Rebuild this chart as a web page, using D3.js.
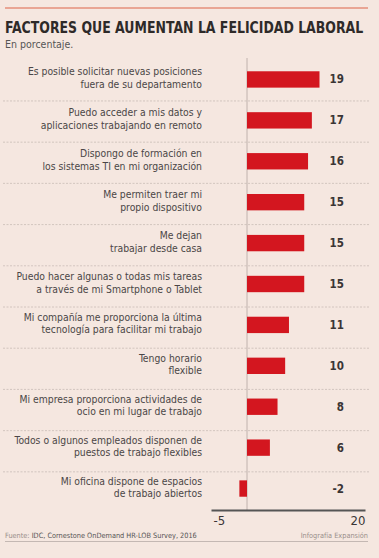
<!DOCTYPE html>
<html>
<head>
<meta charset="utf-8">
<script src="https://cdn.jsdelivr.net/npm/d3@7"></script>
<style>
  html, body { margin: 0; padding: 0; background: #f5e7e0; }
  svg { display: block; }
  text { font-family: 'Liberation Sans Narrow', 'DejaVu Sans Condensed', sans-serif; }
</style>
</head>
<body>
<svg id="chart" width="379" height="558"></svg>
<script>
const title = "FACTORES QUE AUMENTAN LA FELICIDAD LABORAL";
const subtitle = "En porcentaje.";
const categories = [
  "Es posible solicitar nuevas posiciones\nfuera de su departamento",
  "Puedo acceder a mis datos y\naplicaciones trabajando en remoto",
  "Dispongo de formación en\nlos sistemas TI en mi organización",
  "Me permiten traer mi\npropio dispositivo",
  "Me dejan\ntrabajar desde casa",
  "Puedo hacer algunas o todas mis tareas\na través de mi Smartphone o Tablet",
  "Mi compañía me proporciona la última\ntecnología para facilitar mi trabajo",
  "Tengo horario\nflexible",
  "Mi empresa proporciona actividades de\nocio en mi lugar de trabajo",
  "Todos o algunos empleados disponen de\npuestos de trabajo flexibles",
  "Mi oficina dispone de espacios\nde trabajo abiertos"
];
const values = [19, 17, 16, 15, 15, 15, 11, 10, 8, 6, -2];
const axisTicks = [-5, 20];
const sourceLabel = "Fuente:";
const sourceText = " IDC, Cornestone OnDemand HR-LOB Survey, 2016";
const creditText = "Infografía Expansión";

const svg = d3.select("#chart");

// top rule
svg.append("line").attr("x1", 5).attr("x2", 368).attr("y1", 8).attr("y2", 8)
  .attr("stroke", "#e9a594").attr("stroke-width", 2.2);

const titleT = svg.append("text").attr("x", 0).attr("y", 0)
  .attr("transform", "translate(5,33) scale(1,1.12)")
  .attr("font-size", 20).attr("font-weight", "bold").attr("fill", "#2e2a29")
  .text(title);
const tw = titleT.node().getComputedTextLength();
titleT.attr("font-size", 20 * 358 / tw);

svg.append("text").attr("x", 5).attr("y", 48)
  .attr("font-size", 10.5).attr("fill", "#555")
  .text(subtitle);

const y = d3.scaleBand().domain(categories).range([59, 509])
  .paddingInner(0.6).paddingOuter(0.3);

// bar scale (zero at 247)
const x = d3.scaleLinear().domain([0, 19]).range([247, 319.5]);
// axis scale (labelled line)
const xAxisScale = d3.scaleLinear().domain(axisTicks).range([211, 365]);

// separators
svg.append("g").selectAll("line").data(categories.slice(0, -1)).join("line")
  .attr("x1", 3).attr("x2", 369)
  .attr("y1", (d, i) => y(d) + y.bandwidth() / 2 + 21.5 + i * 0.3)
  .attr("y2", (d, i) => y(d) + y.bandwidth() / 2 + 21.5 + i * 0.3)
  .attr("stroke", "#c9bcb6").attr("stroke-width", 0.8)
  .attr("stroke-dasharray", "2,1.5");

// zero line
svg.append("line").attr("x1", x(0)).attr("x2", x(0)).attr("y1", 58).attr("y2", 510)
  .attr("stroke", "#b3a6a1").attr("stroke-width", 0.8);

// bars
svg.append("g").selectAll("rect").data(values).join("rect")
  .attr("x", d => Math.min(x(0), x(d)))
  .attr("width", d => Math.abs(x(d) - x(0)))
  .attr("y", (d, i) => y(categories[i]))
  .attr("height", y.bandwidth())
  .attr("fill", "#d3161f");

// category labels
const lab = svg.append("g").selectAll("text").data(categories).join("text")
  .attr("text-anchor", "end").attr("font-size", 10.3).attr("fill", "#4a4646")
  .attr("y", d => y(d) + y.bandwidth() / 2);
lab.each(function(d) {
  const parts = d.split("\n");
  const t = d3.select(this);
  parts.forEach((p, k) => {
    t.append("tspan").attr("x", 202)
      .attr("dy", k === 0 ? -4 : 12.5)
      .text(p);
  });
});

// value labels
svg.append("g").selectAll("text").data(values).join("text")
  .attr("x", 344).attr("text-anchor", "end")
  .attr("y", (d, i) => y(categories[i]) + y.bandwidth() / 2 + 4)
  .attr("font-size", 11.5).attr("font-weight", "bold").attr("fill", "#3a3535")
  .text(d => d);

// axis
const axisG = svg.append("g").attr("transform", "translate(0,510)")
  .call(d3.axisBottom(xAxisScale).tickValues(axisTicks).tickFormat(d => String(d))
    .tickSize(0).tickPadding(6));
axisG.select(".domain").attr("stroke", "#555").attr("stroke-width", 2.2);
axisG.selectAll(".tick text")
  .attr("font-size", 13).attr("fill", "#3a3535")
  .attr("font-family", "'Liberation Sans Narrow', 'DejaVu Sans Condensed', sans-serif")
  .attr("text-anchor", (d, i) => i === 0 ? "start" : "end")
  .attr("dx", (d, i) => i === 0 ? 2 : 0);

// footer
const f = svg.append("text").attr("x", 5).attr("y", 538).attr("font-size", 7.3).attr("fill", "#555");
f.append("tspan").attr("fill", "#9a8f8b").text(sourceLabel);
f.append("tspan").text(sourceText);

svg.append("text").attr("x", 368).attr("y", 538).attr("text-anchor", "end")
  .attr("font-size", 7.3).attr("fill", "#9a8f8b").text(creditText);

svg.append("line").attr("x1", 5).attr("x2", 368).attr("y1", 541.5).attr("y2", 541.5)
  .attr("stroke", "#b8aca7").attr("stroke-width", 0.8);
</script>
</body>
</html>
